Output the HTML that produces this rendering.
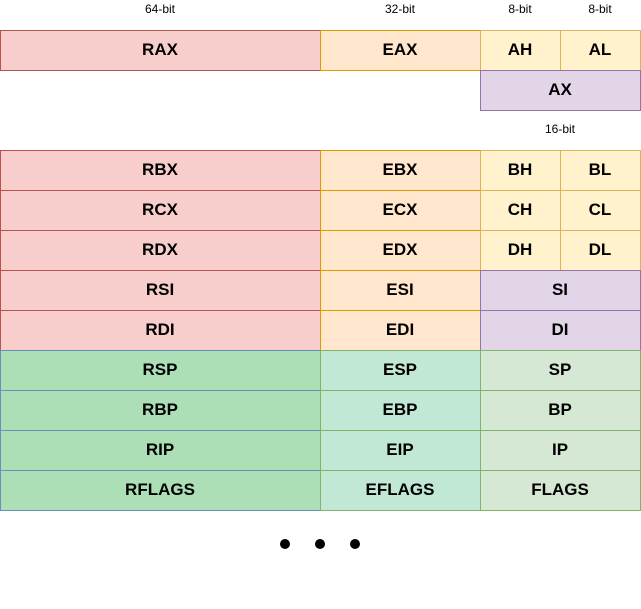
<!DOCTYPE html>
<html><head><meta charset="utf-8"><style>
html,body{margin:0;padding:0;background:#fff;width:641px;height:609px;overflow:hidden}
svg text{font-family:"Liberation Sans",Arial,sans-serif}
.b{font-size:17px;font-weight:bold;fill:#000;text-anchor:middle;dominant-baseline:central}
.s{font-size:12px;fill:#000;text-anchor:middle;dominant-baseline:central}
</style></head><body>
<svg width="641" height="609" viewBox="0 0 641 609" xmlns="http://www.w3.org/2000/svg">
<text class="s" x="160" y="9">64-bit</text>
<text class="s" x="400" y="9">32-bit</text>
<text class="s" x="520" y="9">8-bit</text>
<text class="s" x="600" y="9">8-bit</text>
<text class="s" x="560" y="129">16-bit</text>
<g id="g"></g>
<circle cx="285" cy="544" r="5" fill="#000"/>
<circle cx="320" cy="544" r="5" fill="#000"/>
<circle cx="355" cy="544" r="5" fill="#000"/>
</svg>
<script>
var R={f:"#f8cecc",s:"#b85450"},O={f:"#ffe6cc",s:"#d79b00"},Y={f:"#fff2cc",s:"#d6b656"},P={f:"#e1d5e7",s:"#9673a6"},G={f:"#acdfb6",s:"#6c8ebf"},M={f:"#c1e8d5",s:"#82b366"},L={f:"#d5e8d4",s:"#82b366"};
var cells=[];
function c(x,y,w,t,k){cells.push([x,y,w,t,k]);}
c(0.5,30.5,320,"RAX",R);c(320.5,30.5,160,"EAX",O);c(480.5,30.5,80,"AH",Y);c(560.5,30.5,80,"AL",Y);
c(480.5,70.5,160,"AX",P);
var rows=[["RBX","EBX","BH","BL"],["RCX","ECX","CH","CL"],["RDX","EDX","DH","DL"],["RSI","ESI","SI"],["RDI","EDI","DI"],["RSP","ESP","SP"],["RBP","EBP","BP"],["RIP","EIP","IP"],["RFLAGS","EFLAGS","FLAGS"]];
rows.forEach(function(r,i){var y=150.5+i*40;var g=i>=5;
c(0.5,y,320,r[0],g?G:R);c(320.5,y,160,r[1],g?M:O);
if(r.length==4){c(480.5,y,80,r[2],Y);c(560.5,y,80,r[3],Y);}else c(480.5,y,160,r[2],g?L:P);});
var h="";
cells.forEach(function(a){h+='<rect x="'+a[0]+'" y="'+a[1]+'" width="'+a[2]+'" height="40" fill="'+a[4].f+'" stroke="'+a[4].s+'" stroke-width="1"/>';});
cells.forEach(function(a){h+='<text class="b" x="'+(a[0]-0.5+a[2]/2)+'" y="'+(a[1]+19)+'">'+a[3]+'</text>';});
document.getElementById("g").innerHTML=h;
</script>
</body></html>
